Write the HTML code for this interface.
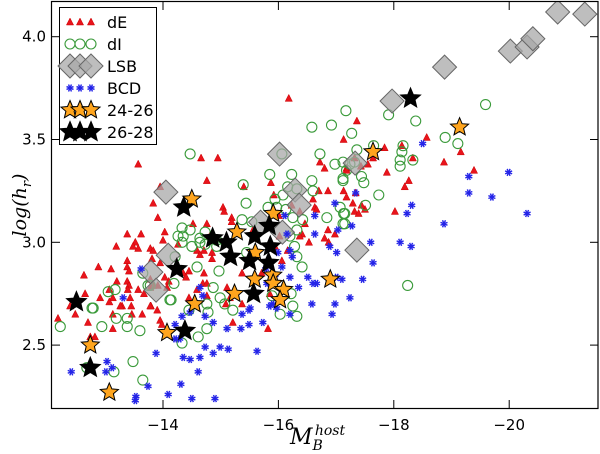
<!DOCTYPE html>
<html><head><meta charset="utf-8">
<style>
html,body{margin:0;padding:0;background:#fff;}
svg{display:block;font-family:"DejaVu Sans","Liberation Sans",sans-serif;}
</style></head>
<body>
<svg id="chart" width="600" height="454" viewBox="0 0 600 454" xmlns="http://www.w3.org/2000/svg">
<rect x="0" y="0" width="600" height="454" fill="#fff"/>
<g id="marks"></g>
<rect x="51.5" y="1.5" width="546.5" height="407" fill="none" stroke="#000" stroke-width="1.2"/>
<g id="axes"></g>
<text x="290" y="444" font-family="'DejaVu Serif','Liberation Serif',serif" font-style="italic" font-size="22">M<tspan font-size="14" dy="6">B</tspan><tspan font-size="14" dx="-8" dy="-15">host</tspan></text>
<text transform="translate(26,205) rotate(-90)" text-anchor="middle" font-family="'DejaVu Serif','Liberation Serif',serif" font-style="italic" font-size="19">log(h<tspan font-size="13" dy="5">r</tspan><tspan dy="-5">)</tspan></text>
<g id="legend">
<rect x="59.5" y="7.5" width="97" height="137" fill="#fff" stroke="#000" stroke-width="1"/>
</g>
</svg>
<script>
// X: M_B^host, Y: log(h_r)
const xTicks = [-14, -16, -18, -20];
const yTicks = [2.5, 3.0, 3.5, 4.0];
const dE_M = [-13.57,-14.66,-13.95,-14.76,-13.83,-13.91,-13.38,-13.62,-14.03,-13.52,-13.48,-13.57,-13.19,-13.78,-13.83,-14.00,-14.26,-14.52,-14.76,-14.59,-14.71,-13.81,-13.95,-13.38,-13.38,-13.41,-12.88,-13.10,-12.63,-13.20,-13.38,-13.41,-13.39,-13.78,-14.03,-14.10,-14.35,-14.40,-14.45,-14.71,-13.57,-13.67,-13.78,-13.83,-13.91,-14.07,-13.07,-13.13,-12.91,-12.65,-13.29,-13.45,-13.79,-13.07,
-14.95,-15.87,-15.40,-15.92,-15.04,-15.06,-15.19,-15.19,-16.72,-16.80,-17.18,-17.32,-17.13,-17.18,-17.34,-16.86,-16.70,-16.23,-16.37,-16.60,-16.63,-16.66,-16.01,-16.46,-15.56,-16.41,-16.37,-16.02,-16.86,-16.98,-16.80,-16.87,-16.53,-14.81,-14.64,-14.85,-14.85,-16.16,-15.94,-16.06,-15.37,-15.71,-14.69,-15.11,-15.85,-15.09,-15.37,-15.16,
-12.39,-12.48,-13.13,-13.13,-12.74,-12.82,-12.18,-12.70,-13.43,-13.46,-13.64,-13.78,-13.90,-13.95,-13.98,-13.26,-14.45,-14.59,-14.76,-15.21,-15.82,-14.76,
-17.36,-17.13,-18.57,-17.84,-18.14,-17.64,-17.55,-18.33,-18.87,-19.16,-19.39,-17.88,-17.43,-17.18,-18.26,-18.19,-17.29,-17.32,-17.39,-17.50,-18.02,-17.44,-16.18];
const dE_h = [3.38,3.41,3.27,3.30,3.19,3.12,3.04,3.04,3.05,3.00,2.98,2.97,2.98,2.97,2.96,3.01,2.99,3.09,3.09,2.96,2.96,2.92,2.90,2.91,2.88,2.86,2.88,2.87,2.84,2.81,2.81,2.79,2.77,2.82,2.83,2.81,2.85,2.83,2.86,2.85,2.77,2.75,2.78,2.79,2.79,2.78,2.77,2.73,2.73,2.75,2.69,2.69,2.69,2.71,
3.41,3.29,3.27,3.23,3.17,3.15,3.12,3.10,3.39,3.36,3.36,3.41,3.25,3.22,3.24,3.25,3.25,3.18,3.15,3.21,3.17,3.16,3.13,3.09,3.06,3.04,3.03,3.03,3.06,3.04,3.02,3.00,3.00,3.03,2.94,2.95,2.92,2.96,2.98,2.91,2.85,2.85,2.80,2.78,2.75,2.70,2.70,2.73,
2.69,2.65,2.65,2.58,2.54,2.54,2.63,2.61,2.73,2.65,2.65,2.69,2.67,2.62,2.60,2.69,2.73,2.77,2.80,2.61,2.58,2.74,
3.59,3.50,3.51,3.46,3.47,3.41,3.38,3.41,3.39,3.44,3.35,3.34,3.37,3.35,3.30,3.27,3.19,3.15,3.14,3.16,3.15,3.18,3.70];
const dI_M = [-14.47,-14.33,-14.47,-14.73,-14.26,-14.35,-14.64,-14.33,-14.50,-14.73,-14.21,-14.59,-13.65,-13.74,-14.19,-13.05,-13.17,-14.12,-12.79,-14.76,
-16.06,-16.72,-16.98,-17.12,-17.32,-17.18,-15.85,-16.23,-16.58,-17.12,-15.39,-16.16,-16.32,-16.60,-16.08,-15.94,-15.44,-15.82,-15.97,-16.13,-17.07,-17.15,-16.25,-16.42,-16.84,-15.37,-15.54,-17.12,-14.64,-14.93,-14.93,-16.32,-16.20,-16.28,-16.32,-15.45,-14.97,-16.41,-14.87,-14.99,-16.22,-16.25,
-12.22,-12.77,-12.94,-13.19,-13.38,-13.38,-13.60,-14.14,-14.33,-14.61,-14.76,-14.78,-15.07,-15.21,-14.45,-13.48,-12.68,-13.15,-13.65,-16.03,-16.32,-15.89,-13.78,
-17.17,-17.91,-18.38,-19.59,-17.27,-17.65,-17.36,-18.16,-18.14,-18.89,-19.11,-18.33,-18.11,-18.11,-17.24,-17.44,-17.12,-17.48,-17.74,-17.51,-17.13,-17.15,-18.24,-16.92,-16.58];
const dI_h = [3.43,3.07,3.06,3.05,3.03,3.03,3.00,3.00,2.98,2.99,2.93,2.88,2.85,2.79,2.80,2.76,2.77,2.72,2.68,2.70,
3.43,3.43,3.38,3.39,3.39,3.35,3.33,3.33,3.30,3.30,3.28,3.27,3.26,3.25,3.23,3.21,3.19,3.17,3.17,3.16,3.17,3.14,3.12,3.11,3.12,3.11,3.10,3.09,3.02,3.01,2.98,3.06,3.03,2.98,2.93,2.95,2.86,2.88,2.78,2.73,2.75,2.69,
2.59,2.68,2.59,2.63,2.63,2.59,2.57,2.72,2.51,2.54,2.58,2.66,2.70,2.67,2.67,2.42,2.39,2.37,2.33,2.65,2.64,2.74,2.79,
3.64,3.62,3.59,3.67,3.53,3.47,3.45,3.47,3.44,3.51,3.48,3.40,3.40,3.37,3.38,3.32,3.31,3.29,3.23,3.18,3.14,3.09,2.79,3.57,3.56];
const LSB_M = [-14.05,-14.09,-13.79,-13.88,-16.02,-16.29,-16.36,-15.69,-16.07,-17.36,-18.88,-17.97,-17.33,-20.02,-20.31,-20.41,-20.84,-21.31];
const LSB_h = [3.244,2.937,2.855,2.767,3.429,3.254,3.181,3.098,3.049,2.962,3.852,3.687,3.385,3.93,3.95,3.99,4.12,4.11];
const BCD_M = [-13.62,-13.31,-14.64,-14.69,
-16.98,-17.34,-16.11,-16.63,-17.27,-17.03,-16.63,-16.15,-16.89,-17.01,-16.20,-16.24,-15.99,-16.06,-15.78,-15.94,-16.20,-16.51,-16.60,-16.66,-16.35,-15.80,-16.02,-15.90,-15.51,-16.58,-16.98,-17.24,-17.01,
-12.41,-13.03,-13.12,-13.01,-13.74,-13.53,-13.52,-14.09,-14.50,-14.90,-14.31,-13.88,-14.35,-14.47,-14.61,-14.64,-14.73,-14.87,-14.99,-15.13,-15.63,-15.11,-15.35,-15.49,-15.73,-14.87,-14.73,-14.21,-14.21,-14.29,-14.33,-14.47,-15.37,-15.49,-15.85,-15.97,-16.20,
-18.50,-19.30,-19.99,-19.30,-19.70,-20.31,-18.31,-18.23,-18.87,-17.60,-18.11,-18.30,-17.64,-17.10,-17.46,-16.93];
const BCD_h = [2.87,2.73,2.78,2.74,
3.19,3.24,3.13,3.13,3.08,3.06,3.04,3.04,2.98,2.95,2.96,2.93,2.95,2.88,2.87,2.84,2.83,2.83,2.80,2.80,2.78,2.80,2.73,2.70,2.68,2.70,2.70,2.73,2.83,
2.37,2.42,2.39,2.37,2.30,2.25,2.23,2.26,2.24,2.24,2.31,2.46,2.44,2.43,2.37,2.44,2.49,2.46,2.49,2.48,2.47,2.58,2.58,2.60,2.61,2.61,2.64,2.60,2.53,2.53,2.64,2.66,2.65,2.67,2.69,2.68,2.65,
3.48,3.32,3.34,3.24,3.22,3.14,3.18,3.14,3.09,3.00,3.00,2.98,2.90,2.82,2.82,2.65];
const s2426_M = [-14.50,-14.55,-15.91,-15.28,-15.60,-15.59,-15.90,-15.91,-16.09,-16.03,-15.24,-16.90,-12.74,-13.07,-14.07,-17.64,-19.14];
const s2426_h = [3.21,2.70,3.14,3.05,2.95,2.82,2.84,2.80,2.77,2.72,2.75,2.82,2.50,2.27,2.56,3.44,3.56];
const s2628_M = [-14.36,-14.24,-12.50,-12.74,-14.38,-14.86,-15.10,-15.59,-15.84,-15.17,-15.50,-15.86,-15.83,-15.57,-18.29];
const s2628_h = [3.17,2.87,2.71,2.39,2.57,3.02,3.00,3.03,3.08,2.93,2.91,2.98,2.90,2.75,3.70];
const legendLabels = ["dE","dI","LSB","BCD","24-26","26-28"];

const NS = "http://www.w3.org/2000/svg";
function X(m){ return 163 + (-14 - m) * 57.7; }
function Y(h){ return 36.7 + (4 - h) * 205.6; }
function mk(tag, attrs, parent){
  const e = document.createElementNS(NS, tag);
  for (const k in attrs) e.setAttribute(k, attrs[k]);
  parent.appendChild(e);
  return e;
}
function tri(x,y,g){
  const e = mk('polygon',{points:`${x},${y-4} ${x-3.6},${y+3} ${x+3.6},${y+3}`,fill:'#e8141c',stroke:'#c00',"stroke-width":0.5},g);
  return e;
}
function circ(x,y,g){
  return mk('circle',{cx:x,cy:y,r:5,fill:'none',stroke:'#3a9a3a',"stroke-width":1.1},g);
}
function dia(x,y,g){
  const r=12;
  return mk('polygon',{points:`${x},${y-r} ${x+r},${y} ${x},${y+r} ${x-r},${y}`,fill:'#a8a8a8','fill-opacity':0.75,stroke:'#666',"stroke-width":1},g);
}
function ast(x,y,g){
  const e = mk('g',{},g);
  const r=3.8;
  for (let i=0;i<4;i++){
    const a = i*Math.PI/4 + Math.PI/8;
    mk('line',{x1:x-r*Math.cos(a),y1:y-r*Math.sin(a),x2:x+r*Math.cos(a),y2:y+r*Math.sin(a),stroke:'#2424e8',"stroke-width":1.4},e);
  }
  return e;
}
function star(x,y,R,fill,g){
  let p=[];
  for (let i=0;i<10;i++){
    const rr = i%2===0 ? R : R*0.45;
    const a = -Math.PI/2 + i*Math.PI/5;
    p.push((x+rr*Math.cos(a)).toFixed(1)+','+(y+rr*Math.sin(a)).toFixed(1));
  }
  return mk('polygon',{points:p.join(' '),fill:fill,stroke:'#000',"stroke-width":1,"stroke-linejoin":"miter"},g);
}

const marks = document.getElementById('marks');
const clip = mk('clipPath',{id:'pc'},marks);
mk('rect',{x:51.5,y:1.5,width:546.5,height:407},clip);
const gAll = mk('g',{'clip-path':'url(#pc)'},marks);

const gdE = mk('g',{},gAll);


dE_M.forEach((m,i)=>{ const e=tri(X(m),Y(dE_h[i]),gdE);
  
   });

const gdI = mk('g',{},gAll);


dI_M.forEach((m,i)=>{ const e=circ(X(m),Y(dI_h[i]),gdI);
  
   });

const gL = mk('g',{},gAll);


LSB_M.forEach((m,i)=>{ const e=dia(X(m),Y(LSB_h[i]),gL);
  
   });

const gB = mk('g',{},gAll);


BCD_M.forEach((m,i)=>{ const e=ast(X(m),Y(BCD_h[i]),gB);
  
   });

const gS1 = mk('g',{},gAll);


s2426_M.forEach((m,i)=>{ const e=star(X(m),Y(s2426_h[i]),9.5,'#ffa51e',gS1);
  
   });

const gS2 = mk('g',{},gAll);


s2628_M.forEach((m,i)=>{ const e=star(X(m),Y(s2628_h[i]),10.5,'#000',gS2);
  
   });

// axes ticks
const axes = document.getElementById('axes');
xTicks.forEach(t=>{
  const x = X(t);
  const a = mk('line',{x1:x,y1:408,x2:x,y2:400,stroke:'#000','stroke-width':1},axes);
  
  
  const b = mk('line',{x1:x,y1:2,x2:x,y2:10,stroke:'#000','stroke-width':1},axes);
  
  
  const tx = mk('text',{x:x,y:430,'text-anchor':'middle','font-size':15},axes);
  tx.textContent = '\u2212' + Math.abs(t);
  
  
});
yTicks.forEach(t=>{
  const y = Y(t);
  const a = mk('line',{x1:52,y1:y,x2:60,y2:y,stroke:'#000','stroke-width':1},axes);
  
  
  const b = mk('line',{x1:598,y1:y,x2:590,y2:y,stroke:'#000','stroke-width':1},axes);
  
  
  const tx = mk('text',{x:46,y:y+5,'text-anchor':'end','font-size':15},axes);
  tx.textContent = t.toFixed(1);
  
  
});

// legend
const lg = document.getElementById('legend');
const rowsY = [22,44,66,88,110,132];
const mx = [70,80,91];
legendLabels.forEach((lab,i)=>{
  const y = rowsY[i];
  const g = mk('g',{},lg);
  
  
  mx.forEach(x=>{
    if(i===0) tri(x,y,g);
    else if(i===1) circ(x,y,g);
    else if(i===2) dia(x,y,g);
    else if(i===3) ast(x,y,g);
    else if(i===4) star(x,y,9.5,'#ffa51e',g);
    else star(x,y,10.5,'#000',g);
  });
  const t = mk('text',{x:107,y:y+6,'font-size':16},g);
  t.textContent = lab;
});
</script>
</body></html>
